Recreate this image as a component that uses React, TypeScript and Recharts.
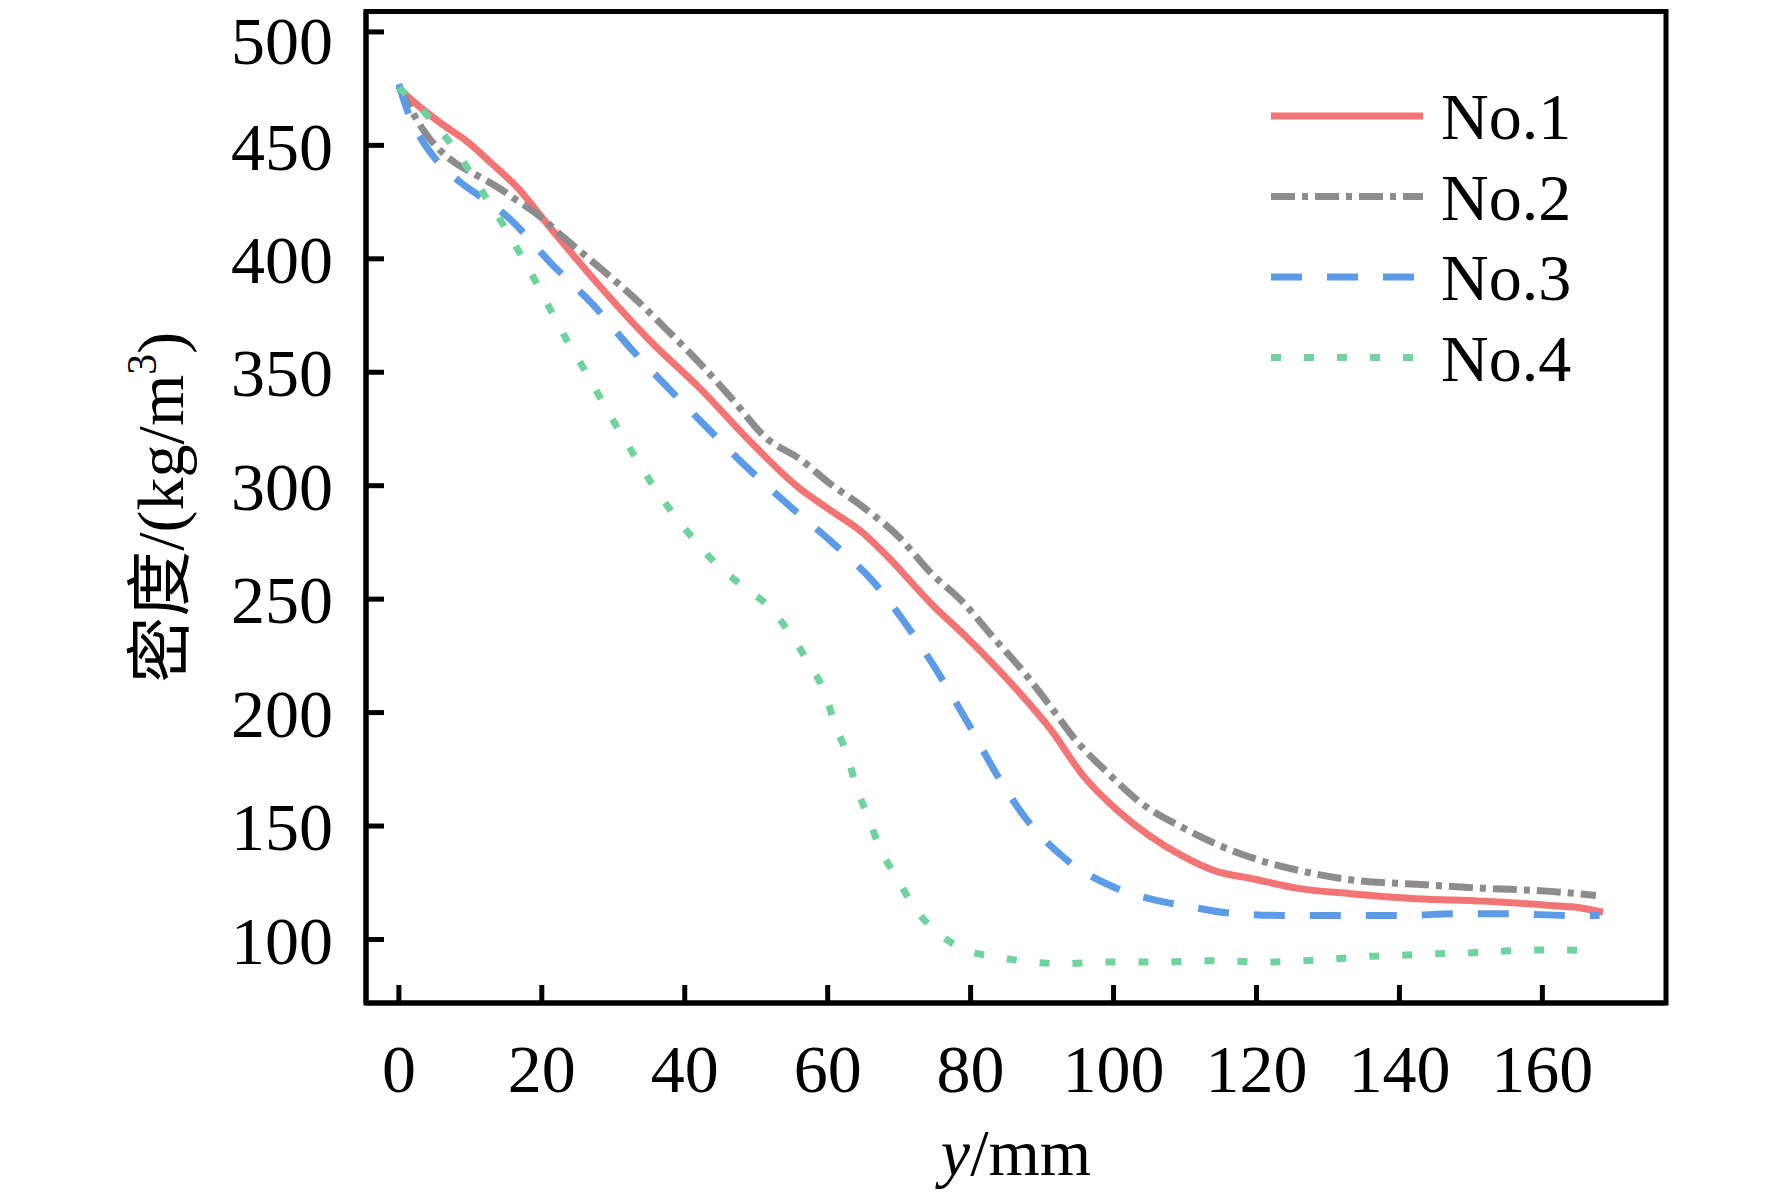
import { LineChart, Line, XAxis, YAxis, ReferenceArea, Legend } from "recharts";

// density profiles: [y in mm, density in kg/m3]
const NO1: [number, number][] = [
  [0, 475], [2.9, 467], [6.2, 459], [9.4, 452], [13, 442], [16.4, 432], [21.1, 414],
  [28.1, 388], [35.1, 364], [42.1, 343], [49, 320], [56, 299], [60, 290], [65, 279],
  [68, 270], [74.8, 247], [79.5, 233], [86.5, 210], [91.1, 193], [95.8, 172],
  [100.5, 157], [105.1, 145.5], [109.8, 136.5], [114.4, 130], [119.1, 127], [126.1, 122.4],
  [133.1, 120.2], [142.4, 118], [151.7, 116.9], [161.1, 115], [165.2, 114], [168.5, 112],
];

const NO2: [number, number][] = [
  [0, 476], [2, 464], [3.8, 455], [5.7, 448], [8, 442], [10.8, 437], [14.1, 431],
  [16.4, 426], [19.2, 420], [23.4, 408.5], [28.5, 395], [33.2, 382], [37.4, 369],
  [42.1, 354], [46.7, 338], [51.4, 321], [56, 312], [60.3, 301], [65.2, 290], [70.1, 277],
  [74.3, 262], [79, 248.4], [83.2, 233], [87.4, 218], [91.1, 203], [94.8, 187.5], [99, 174],
  [103.7, 160.5], [109.5, 149.6], [114.4, 142], [121.4, 134], [127, 129.7], [133.1, 126.3],
  [142.4, 124.3], [151.7, 122.6], [161.1, 121.2], [167.5, 119.4],
];

const NO3: [number, number][] = [
  [0, 477], [1, 467], [3.1, 453], [5, 444.5], [8.5, 434], [11.3, 427.6], [15, 419],
  [21.6, 397], [27.1, 380], [32.3, 361], [37.7, 343], [43, 326], [48.6, 308.4],
  [54.7, 291], [60.8, 274.5], [66.4, 257.6], [71.3, 237.4], [75.7, 216.3], [79.7, 195],
  [83.6, 173], [87.8, 153], [93.4, 135.2], [100.4, 122.6], [106, 117.2], [109.8, 115],
  [115.8, 111.8], [123.8, 110.6], [133.1, 110.6], [140.4, 110.6], [147.8, 111.3],
  [155.8, 111.3], [163.4, 110.6], [168, 110.6],
];

const NO4: [number, number][] = [
  [0, 475.5], [3.6, 464.4], [6.6, 453.4], [9.4, 441], [12, 428], [14.6, 415], [16.9, 402.6],
  [19.2, 389.6], [21.3, 377], [23.6, 363.6], [26, 351], [28.3, 338], [30.6, 325.4],
  [33.2, 312], [35.5, 300.4], [38.3, 288], [41.1, 277], [44.4, 265.5], [48, 256],
  [51.8, 246.6], [54.6, 235.5], [57.2, 222.5], [59.6, 208.6], [61, 195], [62.7, 181.6],
  [64, 167.3], [65.7, 153.8], [67.3, 140.2], [69.7, 127.1], [72, 114.6], [75, 104],
  [79.2, 95.5], [83.9, 92.1], [88.4, 90.1], [93, 89.3], [97.9, 90], [102.4, 90.1], [107, 90],
  [111.6, 90.6], [116.3, 90.5], [120.9, 90], [125.6, 90.5], [130.5, 91.3], [135.2, 92.5],
  [139.8, 93], [144.5, 93.7], [149.2, 94], [153.8, 94.7], [158.5, 95.4], [163.2, 95.4],
  [167.7, 94.6],
];

const X_TICKS = [0, 20, 40, 60, 80, 100, 120, 140, 160];
const Y_TICKS = [100, 150, 200, 250, 300, 350, 400, 450, 500];
const X_DOMAIN: [number, number] = [-4.6, 177.3];
const Y_DOMAIN: [number, number] = [72, 509];

const SERIES = [
  { name: "No.1", color: "#F27474", dash: undefined as string | undefined, points: NO1 },
  { name: "No.2", color: "#8C8C8C", dash: "24 7 6 7", points: NO2 },
  { name: "No.3", color: "#5B9BE8", dash: "31 25", points: NO3 },
  { name: "No.4", color: "#6ED39C", dash: "10 23", points: NO4 },
];

const FONT = "'Liberation Serif', 'Times New Roman', 'Noto Sans CJK SC', serif";
const tickStyle = { fill: "#000", fontSize: 68, fontFamily: FONT };
const AXIS_LINE = { stroke: "#000", strokeWidth: 5 };

const toRows = (pts: [number, number][]) => pts.map(([x, y]) => ({ x, y }));

function XTitle({ viewBox }: any) {
  const cx = viewBox.x + viewBox.width / 2;
  return (
    <text x={cx} y={viewBox.y + 172} textAnchor="middle" fontSize={66} fontFamily={FONT} fill="#000">
      <tspan fontStyle="italic">y</tspan>/mm
    </text>
  );
}

function YTitle({ viewBox }: any) {
  const x = viewBox.x + 17;
  const cy = viewBox.y + viewBox.height / 2;
  return (
    <text
      x={x}
      y={cy}
      transform={`rotate(-90 ${x} ${cy})`}
      textAnchor="middle"
      fontSize={66}
      fontFamily={FONT}
      fill="#000"
    >
      密度/(kg/m
      <tspan dy={-27} fontSize={42}>3</tspan>
      <tspan dy={27}>)</tspan>
    </text>
  );
}

function LegendBox() {
  return (
    <svg width={420} height={330} style={{ display: "block" }}>
      {SERIES.map((s, i) => {
        const cy = 46 + i * 80.5;
        return (
          <g key={s.name}>
            <line x1={11} x2={163} y1={cy} y2={cy} stroke={s.color} strokeWidth={7} strokeDasharray={s.dash} />
            <text x={181} y={cy + 23} fontSize={66} fontFamily={FONT} fill="#000">
              {s.name}
            </text>
          </g>
        );
      })}
    </svg>
  );
}

export default function App() {
  return (
    <div style={{ position: "absolute", left: 0, top: 0, width: 1772, height: 1194, background: "#fff" }}>
      <LineChart width={1772} height={1194} margin={{ top: 11.5, right: 106, bottom: 91, left: 166 }}>
        <XAxis
          dataKey="x"
          type="number"
          domain={X_DOMAIN}
          ticks={X_TICKS}
          allowDataOverflow
          height={100}
          tick={tickStyle}
          tickSize={-18}
          tickMargin={59}
          axisLine={AXIS_LINE}
          tickLine={AXIS_LINE}
          label={{ content: (p: any) => <XTitle {...p} /> }}
        />
        <YAxis
          type="number"
          domain={Y_DOMAIN}
          ticks={Y_TICKS}
          allowDataOverflow
          width={200}
          tick={tickStyle}
          tickSize={-18}
          tickMargin={51}
          axisLine={AXIS_LINE}
          tickLine={AXIS_LINE}
          label={{ content: (p: any) => <YTitle {...p} /> }}
        />
        <ReferenceArea
          x1={X_DOMAIN[0]}
          x2={X_DOMAIN[1]}
          y1={Y_DOMAIN[0]}
          y2={Y_DOMAIN[1]}
          fill="none"
          fillOpacity={0}
          stroke="#000"
          strokeWidth={5}
          ifOverflow="visible"
        />
        {SERIES.map((s) => (
          <Line
            key={s.name}
            name={s.name}
            data={toRows(s.points)}
            dataKey="y"
            type="monotone"
            stroke={s.color}
            strokeWidth={7}
            strokeDasharray={s.dash}
            dot={false}
            activeDot={false}
            isAnimationActive={false}
          />
        ))}
        <Legend
          layout="vertical"
          align="center"
          verticalAlign="middle"
          content={() => <LegendBox />}
          wrapperStyle={{ left: 1260, top: 70, width: 420, height: 330 }}
        />
      </LineChart>
    </div>
  );
}
